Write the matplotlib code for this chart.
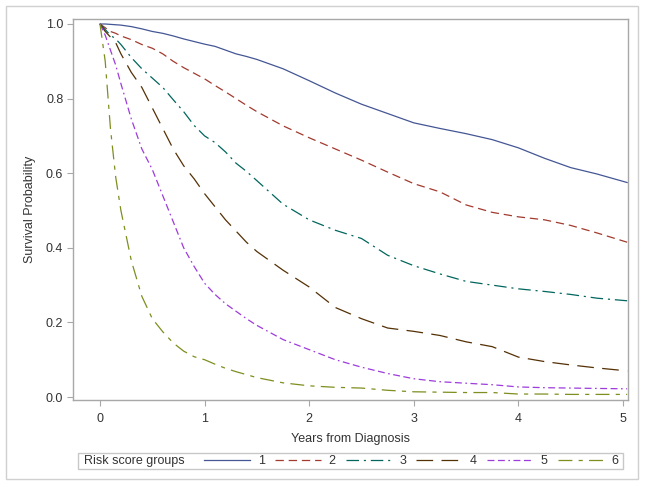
import matplotlib
matplotlib.use("Agg")
import matplotlib.pyplot as plt
from matplotlib.patches import Rectangle

plt.rcParams['font.family'] = ['Liberation Sans', 'DejaVu Sans']
plt.rcParams['lines.scale_dashes'] = False

years = [0, 0.05, 0.1, 0.15, 0.2, 0.3, 0.4, 0.5, 0.6, 0.7, 0.8, 0.9, 1.0,
         1.1, 1.2, 1.3, 1.4, 1.5, 1.75, 2.0, 2.25, 2.5, 2.75, 3.0, 3.25,
         3.5, 3.75, 4.0, 4.25, 4.5, 4.75, 5.04]

group_labels = ['1', '2', '3', '4', '5', '6']

surv_1 = [1.0, 1.0, 0.999, 0.998, 0.997, 0.993, 0.987, 0.98, 0.975, 0.968, 0.96, 0.953, 0.946,
          0.94, 0.93, 0.92, 0.913, 0.905, 0.88, 0.848, 0.815, 0.785, 0.76, 0.735, 0.72,
          0.706, 0.69, 0.668, 0.64, 0.615, 0.598, 0.575]
surv_2 = [1.0, 0.99, 0.98, 0.975, 0.968, 0.958, 0.945, 0.935, 0.92, 0.90, 0.883, 0.868, 0.853,
          0.835, 0.818, 0.80, 0.782, 0.765, 0.727, 0.695, 0.665, 0.635, 0.603, 0.572, 0.55,
          0.515, 0.495, 0.483, 0.475, 0.46, 0.44, 0.415]
surv_3 = [1.0, 0.985, 0.97, 0.96, 0.945, 0.91, 0.88, 0.855, 0.83, 0.797, 0.765, 0.728, 0.70,
          0.682, 0.657, 0.627, 0.605, 0.58, 0.517, 0.475, 0.447, 0.425, 0.38, 0.352, 0.33,
          0.31, 0.30, 0.29, 0.283, 0.275, 0.265, 0.258]
surv_4 = [1.0, 0.98, 0.965, 0.95, 0.92, 0.87, 0.83, 0.775, 0.72, 0.665, 0.62, 0.585, 0.545,
          0.51, 0.475, 0.445, 0.415, 0.39, 0.34, 0.295, 0.24, 0.21, 0.185, 0.176, 0.165,
          0.148, 0.135, 0.107, 0.095, 0.086, 0.078, 0.07]
surv_5 = [1.0, 0.97, 0.93, 0.89, 0.84, 0.745, 0.665, 0.61, 0.54, 0.47, 0.40, 0.35, 0.305,
          0.275, 0.25, 0.23, 0.21, 0.192, 0.154, 0.127, 0.10, 0.08, 0.063, 0.049, 0.041,
          0.037, 0.033, 0.027, 0.025, 0.024, 0.023, 0.022]
surv_6 = [1.0, 0.90, 0.72, 0.59, 0.50, 0.365, 0.27, 0.21, 0.175, 0.145, 0.123, 0.108, 0.10,
          0.088, 0.077, 0.068, 0.06, 0.052, 0.038, 0.03, 0.026, 0.024, 0.018, 0.014, 0.013,
          0.012, 0.012, 0.008, 0.008, 0.007, 0.007, 0.007]

series = [surv_1, surv_2, surv_3, surv_4, surv_5, surv_6]
colors = ['#445694', '#A23A2E', '#01665E', '#543005', '#9D3CDB', '#7F8E1F']
dashes = [None, (6, 3.5), (9, 3.5, 1.5, 3.5), (12, 6), (5, 2.5, 5, 2.5, 1.2, 2.5), (10, 4.5, 3, 4.5)]

xticks = [0, 1, 2, 3, 4, 5]
yticks = [0.0, 0.2, 0.4, 0.6, 0.8, 1.0]

W, H = 645, 487
fig = plt.figure(figsize=(W / 100, H / 100), dpi=100)
ax = fig.add_axes([73 / W, (H - 400) / H, 555 / W, 381 / H])

handles = []
for vals, c, d, lab in zip(series, colors, dashes, group_labels):
    ln, = ax.plot(years, vals, color=c, lw=0.9, label=lab)
    if d is not None:
        ln.set_dashes(d)
    handles.append(ln)

ax.set_xlim(-0.258, 5.048)
ax.set_ylim(-0.008, 1.0134)
ax.set_xticks(xticks)
ax.set_xticklabels([str(v) for v in xticks])
ax.set_yticks(yticks)
ax.set_yticklabels([f"{v:.1f}" for v in yticks])

spine_c = '#A8A8A8'
for s in ax.spines.values():
    s.set_color(spine_c)
    s.set_linewidth(1.0)
ax.tick_params(axis='both', colors=spine_c, labelcolor='#333333', labelsize=9,
               length=4, width=0.8, direction='out')
ax.tick_params(axis='x', pad=5)
ax.tick_params(axis='y', pad=3)

ax.set_xlabel('Years from Diagnosis', fontsize=9, color='#333333', labelpad=6)
ax.set_ylabel('Survival Probability', fontsize=9, color='#333333', labelpad=7)

# outer frame
fig.patches.append(Rectangle((6 / W, 1 - 479 / H), 632 / W, 473 / H, transform=fig.transFigure,
                             fill=False, edgecolor='#D0D0D0', lw=1.0))
# legend box
fig.patches.append(Rectangle((78 / W, 1 - 469 / H), 545 / W, 16 / H, transform=fig.transFigure,
                             fill=False, edgecolor='#C8C8C8', lw=1.0))
fig.text(84 / W, 1 - 461 / H, 'Risk score groups', fontsize=9, color='#333333',
         ha='left', va='center')
leg = fig.legend(handles=handles, loc='center left', bbox_to_anchor=(204 / W, 1 - 461 / H),
                 ncol=6, frameon=False, fontsize=9, handlelength=3.7, handletextpad=0.6,
                 columnspacing=0.8, borderpad=0, borderaxespad=0)
for t in leg.get_texts():
    t.set_color('#333333')

fig.savefig('out.png', dpi=100)
